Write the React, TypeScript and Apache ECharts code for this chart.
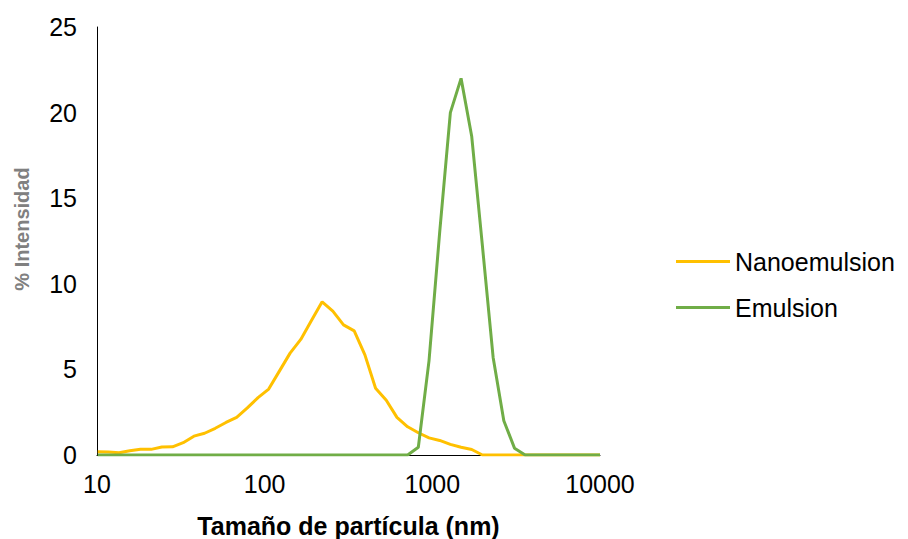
import React, { useEffect, useRef } from "react";
import * as echarts from "echarts";

const sizes = [10.1, 11.7, 13.54, 15.69, 18.17, 21.04, 24.36, 28.21, 32.67, 37.84, 43.82, 50.75, 58.77, 68.06, 78.82, 91.28, 105.7, 122.4, 141.8, 164.2, 190.1, 220.2, 255.0, 295.3, 342.0, 396.1, 458.7, 531.2, 615.1, 712.4, 825.0, 955.4, 1106, 1281, 1484, 1718, 1990, 2305, 2669, 3091, 3580, 4145, 4801, 5560, 6439, 7456, 8635, 10000];

const nanoemulsion = [0.19, 0.18, 0.13, 0.25, 0.33, 0.33, 0.47, 0.48, 0.72, 1.1, 1.27, 1.56, 1.9, 2.2, 2.75, 3.35, 3.85, 4.9, 5.95, 6.75, 7.85, 8.95, 8.4, 7.6, 7.25, 5.85, 3.9, 3.2, 2.2, 1.65, 1.3, 1.0, 0.85, 0.62, 0.45, 0.32, 0, 0, 0, 0, 0, 0, 0, 0, 0, 0, 0, 0];

const emulsion = [0, 0, 0, 0, 0, 0, 0, 0, 0, 0, 0, 0, 0, 0, 0, 0, 0, 0, 0, 0, 0, 0, 0, 0, 0, 0, 0, 0, 0, 0, 0.45, 5.5, 13.0, 20.0, 22.0, 18.6, 12.2, 5.7, 2.0, 0.4, 0, 0, 0, 0, 0, 0, 0, 0];

const seriesNames = ["Nanoemulsion", "Emulsion"];
const xTitle = "Tamaño de partícula (nm)";
const yTitle = "% Intensidad";

export default function App() {
  const ref = useRef<HTMLDivElement>(null);
  useEffect(() => {
    if (!ref.current) return;
    const chart = echarts.init(ref.current, null, { renderer: "svg" });
    const font = "Liberation Sans, Arial, sans-serif";
    chart.setOption({
      animation: false,
      grid: { left: 97, right: 308, top: 27, bottom: 84, containLabel: false, outerBoundsMode: "none" },
      legend: {
        orient: "vertical",
        left: 671,
        top: 244,
        itemWidth: 54,
        itemHeight: 3,
        itemGap: 21,
        icon: "rect",
        textStyle: { fontFamily: font, fontSize: 25, color: "#000" },
        data: seriesNames,
      },
      xAxis: {
        type: "log",
        logBase: 10,
        min: 10,
        max: 10000,
        name: xTitle,
        nameLocation: "middle",
        nameGap: 58,
        nameTextStyle: { fontFamily: font, fontSize: 25, fontWeight: "bold", color: "#000" },
        axisLine: { show: true, lineStyle: { color: "#000", width: 1 } },
        axisTick: { show: false },
        splitLine: { show: false },
        minorTick: { show: false },
        axisLabel: {
          fontFamily: font,
          fontSize: 25,
          color: "#000",
          margin: 16,
          formatter: (v: number) => String(Math.round(v)),
        },
      },
      yAxis: {
        type: "value",
        min: 0,
        max: 25,
        interval: 5,
        name: yTitle,
        nameLocation: "middle",
        nameGap: 65,
        nameTextStyle: {
          fontFamily: font,
          fontSize: 20,
          fontWeight: "bold",
          color: "#808080",
          padding: [0, 0, 0, 24],
        },
        axisLine: { show: true, lineStyle: { color: "#000", width: 1 } },
        axisTick: { show: false },
        splitLine: { show: false },
        axisLabel: { fontFamily: font, fontSize: 25, color: "#000", margin: 20 },
      },
      series: [
        {
          name: seriesNames[0],
          type: "line",
          symbol: "none",
          color: "#FFC000",
          lineStyle: { width: 3, color: "#FFC000" },
          data: sizes.map((s, i) => [s, nanoemulsion[i]]),
        },
        {
          name: seriesNames[1],
          type: "line",
          symbol: "none",
          color: "#70AD47",
          lineStyle: { width: 3, color: "#70AD47" },
          data: sizes.map((s, i) => [s, emulsion[i]]),
        },
      ],
    });
    return () => chart.dispose();
  }, []);
  return (
    <div
      ref={ref}
      style={{ position: "fixed", left: 0, top: 0, width: 908, height: 539, background: "#fff" }}
    />
  );
}
